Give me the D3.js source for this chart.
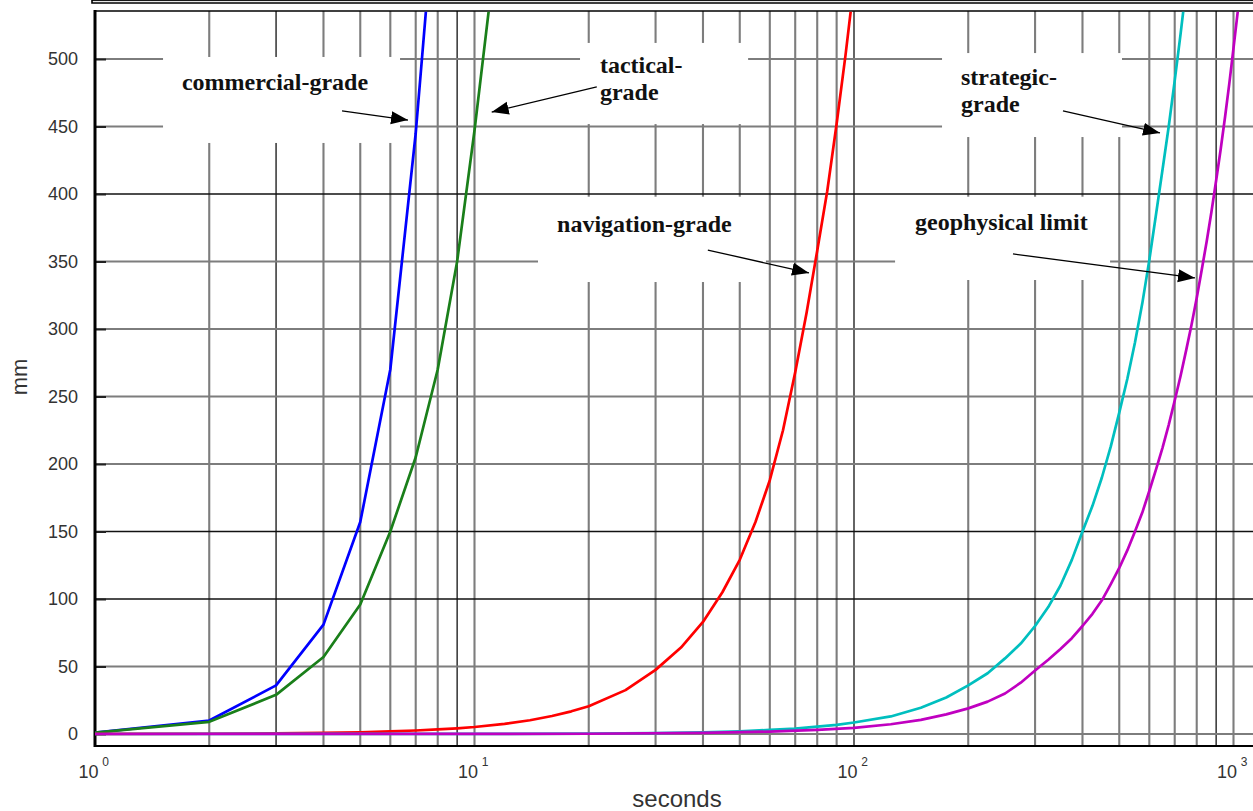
<!DOCTYPE html>
<html><head><meta charset="utf-8">
<script src="https://cdn.jsdelivr.net/npm/d3@7"></script>
<style>body{margin:0;background:#fff;} svg{display:block;}</style>
</head><body>
<svg id="chart" width="1253" height="811"></svg>
<script>
// ---------- data ----------
const commercialT  = [1, 2, 3, 4, 5, 6, 7, 8];
const commercialMM = [1, 10, 36, 81, 157, 270, 445, 640];

const tacticalT  = [1, 2, 3, 4, 5, 6, 7, 8, 9, 10, 11];
const tacticalMM = [1, 9, 29, 57, 96, 150, 205, 270, 350, 447, 545];

const navigationT  = [1, 2, 3, 4, 5, 6, 7, 8, 9, 10, 12, 14, 16, 18, 20, 25, 30, 35, 40, 45, 50, 55, 60, 65, 70, 75, 80, 85, 90, 95, 100, 105];
const navigationMM = [0.05, 0.2, 0.47, 0.83, 1.3, 1.9, 2.6, 3.4, 4.2, 5.2, 7.5, 10.2, 13.3, 16.8, 20.5, 32.5, 47.5, 64, 83, 105, 129, 157, 188, 225, 268, 312, 358, 402, 452, 503, 556, 612];

const strategicT  = [1, 10, 20, 30, 40, 50, 60, 70, 80, 90, 100, 125, 150, 175, 200, 225, 250, 275, 300, 325, 350, 375, 400, 425, 450, 475, 500, 525, 550, 575, 600, 625, 650, 675, 700, 725, 750, 775];
const strategicMM = [0, 0.08, 0.3, 0.7, 1.3, 2, 3, 4, 5.4, 6.8, 8.5, 13, 19.5, 27, 36, 45, 56, 67, 80, 94, 110, 129, 150, 169, 190, 213, 238, 263, 290, 319, 351, 385, 418, 450, 484, 518, 553, 592];

const geophysicalT  = [1, 10, 20, 40, 60, 80, 100, 125, 150, 175, 200, 225, 250, 275, 300, 325, 350, 375, 400, 425, 450, 475, 500, 525, 550, 575, 600, 625, 650, 675, 700, 725, 750, 775, 800, 825, 850, 875, 900, 925, 950, 975, 1000, 1025, 1050];
const geophysicalMM = [0, 0.05, 0.2, 0.8, 1.8, 3, 4.5, 7.2, 10.5, 14.5, 19, 24, 30, 38, 47, 55, 63, 71, 80, 89, 99, 111, 123, 136, 150, 164, 180, 196, 212, 229, 247, 265, 284, 303, 323, 344, 365, 387, 410, 433, 457, 482, 508, 534, 560];

const yTickValues  = [0, 50, 100, 150, 200, 250, 300, 350, 400, 450, 500];
const xMajorTicks  = [1, 10, 100, 1000];
const xExponents   = ["0", "1", "2", "3"];
const xMinorTicks  = [2, 3, 4, 5, 6, 7, 8, 9, 20, 30, 40, 50, 60, 70, 80, 90, 200, 300, 400, 500, 600, 700, 800, 900];
const yDomainMin = -8.9, yDomainMax = 535.6;

// annotations (in data units)
const annotations = [
  {lines: ["commercial-grade"], t: 1.695, v: 477, from: [4.476, 461.5], to: [6.68, 454.8], box: [1.511, 6.365, 437.8, 501.5]},
  {lines: ["tactical-", "grade"], t: 21.4, v: 489.6, from: [21.0, 479.3], to: [11.1, 460.7], box: [18.97, 52.6, 451.8, 511.9]},
  {lines: ["navigation-grade"], t: 16.5, v: 371.9, from: [41.2, 358.5], to: [76.1, 341.5], box: [14.7, 58.6, 334.8, 398.0]},
  {lines: ["strategic-", "grade"], t: 191.4, v: 480.7, from: [355.3, 461.5], to: [640.2, 445.2], box: [170.6, 508.4, 442.2, 504.4]},
  {lines: ["geophysical limit"], t: 144.8, v: 373.3, from: [262.4, 355.6], to: [791.6, 337.8], box: [128.3, 472.9, 336.3, 398.0]}
];

// ---------- styles ----------
const darkX = new Set([3, 9, 100, 900]);
const darkY = new Set([100, 150, 400]);
const series = [
  {t: commercialT, v: commercialMM, color: "#0000ff"},
  {t: tacticalT, v: tacticalMM, color: "#1a7f1a"},
  {t: navigationT, v: navigationMM, color: "#ff0000"},
  {t: strategicT, v: strategicMM, color: "#00bfbf"},
  {t: geophysicalT, v: geophysicalMM, color: "#c000c0"}
];

const W = 1253, H = 811;
const svg = d3.select("#chart");
svg.append("rect").attr("width", W).attr("height", H).attr("fill", "#fff");

const x = d3.scaleLog().domain([1, 1000]).range([95, 1233.5]);
const y = d3.scaleLinear().domain([0, 500]).range([734, 59]);
const pLeft = x(1), pRight = W + 5;
const pTop = y(yDomainMax), pBottom = y(yDomainMin);

// gridlines
const grid = svg.append("g");
grid.selectAll("line.v").data(xMinorTicks.concat(xMajorTicks.slice(1))).join("line")
  .attr("x1", d => x(d)).attr("x2", d => x(d)).attr("y1", pTop).attr("y2", pBottom)
  .attr("stroke", d => darkX.has(d) ? "#111" : "#7d7d7d")
  .attr("stroke-width", d => darkX.has(d) ? 1.3 : 2.1);
grid.selectAll("line.h").data(yTickValues).join("line")
  .attr("x1", pLeft).attr("x2", pRight).attr("y1", d => y(d)).attr("y2", d => y(d))
  .attr("stroke", d => darkY.has(d) ? "#111" : "#7d7d7d")
  .attr("stroke-width", d => darkY.has(d) ? 1.3 : 2.1);

// white label boxes
svg.append("g").selectAll("rect").data(annotations).join("rect")
  .attr("x", d => x(d.box[0])).attr("width", d => x(d.box[1]) - x(d.box[0]))
  .attr("y", d => y(d.box[3])).attr("height", d => y(d.box[2]) - y(d.box[3]))
  .attr("fill", "#fff");

// y axis
const yAxis = svg.append("g").attr("transform", `translate(${pLeft},0)`)
  .call(d3.axisLeft(y).tickValues(yTickValues).tickSizeInner(-11).tickSizeOuter(0).tickPadding(17));
yAxis.select(".domain").remove();
yAxis.selectAll(".tick line").attr("stroke", "#222").attr("stroke-width", 2);
yAxis.selectAll(".tick text").attr("font-family", "'Liberation Sans', Arial, sans-serif")
  .attr("font-size", 18).attr("fill", "#333");

// x axis
const xAxis = svg.append("g").attr("transform", `translate(0,${pBottom})`)
  .call(d3.axisBottom(x).tickValues(xMajorTicks).tickSize(0).tickFormat(() => "10"));
xAxis.select(".domain").remove();
xAxis.selectAll(".tick text").attr("text-anchor", "end").attr("x", 3).attr("y", 32).attr("dy", 0)
  .attr("font-family", "'Liberation Sans', Arial, sans-serif").attr("font-size", 18).attr("fill", "#333");
xAxis.selectAll(".tick").append("text").text((d, i) => xExponents[i])
  .attr("x", 10).attr("y", 20).attr("font-family", "'Liberation Sans', Arial, sans-serif")
  .attr("font-size", 12).attr("fill", "#333");

// frame
svg.append("line").attr("x1", pLeft).attr("x2", pRight).attr("y1", pTop).attr("y2", pTop).attr("stroke", "#000").attr("stroke-width", 1.6);
svg.append("line").attr("x1", pLeft).attr("x2", pRight).attr("y1", pBottom).attr("y2", pBottom).attr("stroke", "#000").attr("stroke-width", 2.2);
svg.append("line").attr("x1", pLeft).attr("x2", pLeft).attr("y1", pTop - 1).attr("y2", pBottom + 1).attr("stroke", "#000").attr("stroke-width", 3);
svg.append("path").attr("d", `M92,-5V3H${pRight}`).attr("fill", "none").attr("stroke", "#000").attr("stroke-width", 1.6);
svg.append("line").attr("x1", 92).attr("x2", pRight).attr("y1", 0.6).attr("y2", 0.6).attr("stroke", "#000").attr("stroke-width", 1);

// curves
svg.append("clipPath").attr("id", "plotclip").append("rect")
  .attr("x", pLeft).attr("y", pTop + 0.8).attr("width", pRight - pLeft).attr("height", pBottom - pTop - 1.5);
const line = d3.line().x(d => x(d[0])).y(d => y(d[1]));
svg.append("g").attr("clip-path", "url(#plotclip)").selectAll("path").data(series).join("path")
  .attr("d", s => line(s.t.map((t, i) => [t, s.v[i]])))
  .attr("fill", "none").attr("stroke", s => s.color).attr("stroke-width", 2.7)
  .attr("stroke-linejoin", "round");

// annotations
const defs = svg.append("defs");
defs.append("marker").attr("id", "ah").attr("markerUnits", "userSpaceOnUse")
  .attr("markerWidth", 18).attr("markerHeight", 14).attr("refX", 17).attr("refY", 7).attr("orient", "auto")
  .append("path").attr("d", "M0,0.5 L17,7 L0,13.5 Z").attr("fill", "#000");

const ann = svg.append("g");
annotations.forEach(a => {
  const t = ann.append("text").attr("x", x(a.t)).attr("y", y(a.v))
    .attr("font-family", "'Liberation Serif', 'Times New Roman', serif").attr("font-weight", "bold")
    .attr("font-size", 24).attr("fill", "#111");
  a.lines.forEach((l, i) => t.append("tspan").attr("x", x(a.t)).attr("dy", i === 0 ? 0 : 27).text(l));
  ann.append("line").attr("x1", x(a.from[0])).attr("y1", y(a.from[1]))
    .attr("x2", x(a.to[0])).attr("y2", y(a.to[1]))
    .attr("stroke", "#000").attr("stroke-width", 1.3).attr("marker-end", "url(#ah)");
});

// axis titles
svg.append("text").attr("transform", "translate(27,377) rotate(-90)").attr("text-anchor", "middle")
  .attr("font-family", "'Liberation Sans', Arial, sans-serif").attr("font-size", 22).attr("fill", "#333").text("mm");
svg.append("text").attr("x", 677).attr("y", 807).attr("text-anchor", "middle")
  .attr("font-family", "'Liberation Sans', Arial, sans-serif").attr("font-size", 24).attr("fill", "#333").text("seconds");
</script>
</body></html>
